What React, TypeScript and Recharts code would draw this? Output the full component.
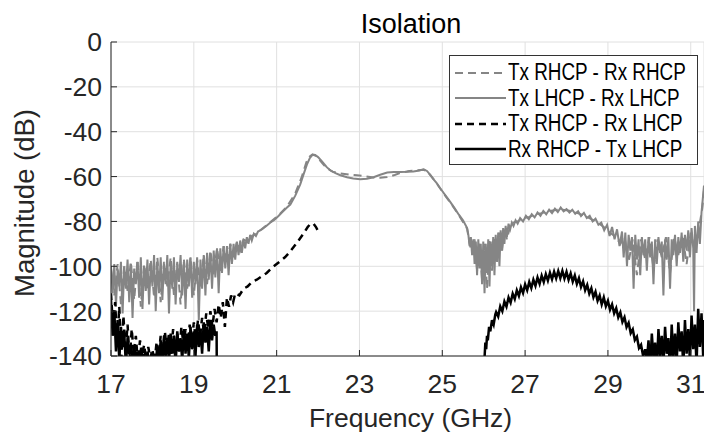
import React from 'react';
import { LineChart, Line, XAxis, YAxis, CartesianGrid, Legend } from 'recharts';

const xTicks = [17, 19, 21, 23, 25, 27, 29, 31];
const yTicks = [0, -20, -40, -60, -80, -100, -120, -140];

// [frequency GHz, magnitude dB]
const txRhcpRxRhcp: [number, number][] = [
  [17.0, -101], [17.08, -113], [17.16, -99], [17.24, -117], [17.32, -100], [17.4, -111], [17.48, -98], [17.56, -115],
  [17.64, -97], [17.72, -118], [17.8, -99], [17.88, -110], [17.96, -97], [18.04, -114], [18.12, -96], [18.2, -116],
  [18.28, -98], [18.36, -109], [18.44, -96], [18.52, -113], [18.6, -98], [18.68, -117], [18.76, -97], [18.84, -110],
  [18.92, -96], [19.0, -113], [19.08, -97], [19.16, -109], [19.24, -95], [19.32, -108], [19.4, -93], [19.48, -104],
  [19.56, -92], [19.64, -102], [19.72, -91], [19.8, -99], [19.88, -90], [19.96, -96], [20.04, -89], [20.12, -93],
  [20.2, -88], [20.3, -89], [20.4, -86.5], [20.5, -85.5], [20.65, -83.3], [20.85, -80.3], [21.05, -77.2], [21.25, -73.3],
  [21.45, -67.5], [21.6, -60.5], [21.72, -53.5], [21.8, -51], [21.86, -50.2], [21.93, -50.6], [22.0, -51.8], [22.1, -54],
  [22.21, -56.2], [22.35, -57.8], [22.54, -58.6], [22.75, -59.1], [22.94, -59.4], [23.15, -59.9], [23.34, -60.4], [23.5, -60.5],
  [23.67, -60.2], [23.85, -59.3], [24.0, -58.3], [24.2, -57.5], [24.4, -57.2], [24.55, -57], [24.63, -57.6], [24.72, -59.6],
  [24.87, -63.2], [25.03, -67.5], [25.2, -71.7], [25.4, -77.2], [25.6, -83.3], [25.66, -90], [25.72, -94], [25.78, -88],
  [25.84, -102], [25.9, -89], [25.96, -106], [26.02, -90], [26.08, -110], [26.14, -88], [26.2, -102], [26.26, -87],
  [26.32, -99], [26.38, -85], [26.44, -94], [26.5, -83], [26.56, -88], [26.64, -82], [26.72, -80.5], [26.82, -80],
  [26.95, -78.5], [27.1, -78], [27.25, -76.8], [27.4, -76.3], [27.55, -75.5], [27.7, -75], [27.85, -74.6], [28.0, -75],
  [28.15, -75.6], [28.3, -76.5], [28.45, -77.6], [28.6, -79], [28.75, -80.5], [28.9, -82.5], [29.05, -85], [29.2, -87],
  [29.3, -90], [29.4, -87], [29.5, -98], [29.6, -88], [29.7, -104], [29.8, -88], [29.9, -97], [30.0, -87],
  [30.1, -101], [30.2, -88], [30.3, -96], [30.4, -87], [30.5, -103], [30.6, -87], [30.7, -95], [30.8, -86],
  [30.9, -99], [31.0, -85], [31.1, -93], [31.2, -83], [31.28, -74], [31.32, -66],
];

const txLhcpRxLhcp: [number, number][] = [
  [17.0, -100], [17.04, -112], [17.08, -99], [17.12, -118], [17.16, -101], [17.2, -109], [17.24, -98], [17.28, -121],
  [17.32, -100], [17.36, -110], [17.4, -97], [17.44, -116], [17.48, -99], [17.52, -123], [17.56, -101], [17.6, -108],
  [17.64, -98], [17.68, -114], [17.72, -96], [17.76, -119], [17.8, -100], [17.84, -111], [17.88, -97], [17.92, -117],
  [17.96, -99], [18.0, -109], [18.04, -95], [18.08, -120], [18.12, -98], [18.16, -112], [18.2, -96], [18.24, -115],
  [18.28, -99], [18.32, -108], [18.36, -95], [18.4, -121], [18.44, -98], [18.48, -110], [18.52, -96], [18.56, -117],
  [18.6, -99], [18.64, -107], [18.68, -95], [18.72, -113], [18.76, -98], [18.8, -119], [18.84, -97], [18.88, -109],
  [18.92, -96], [18.96, -114], [19.0, -98], [19.04, -108], [19.08, -96], [19.12, -124], [19.16, -97], [19.2, -110],
  [19.24, -95], [19.28, -113], [19.32, -94], [19.36, -106], [19.4, -94], [19.44, -110], [19.48, -93], [19.52, -105],
  [19.56, -92], [19.6, -112], [19.64, -92], [19.68, -103], [19.72, -91], [19.76, -101], [19.8, -91], [19.84, -104],
  [19.88, -90], [19.92, -99], [19.96, -90], [20.0, -97], [20.04, -89], [20.08, -95], [20.12, -88.5], [20.16, -94],
  [20.2, -88], [20.24, -92], [20.28, -87], [20.32, -90], [20.36, -86], [20.4, -88.5], [20.45, -85.5], [20.5, -86.5],
  [20.55, -84.5], [20.65, -83.5], [20.75, -82], [20.85, -80.5], [20.95, -79.2], [21.05, -77.5], [21.15, -75.6], [21.25, -73.8],
  [21.33, -72.5], [21.45, -68.5], [21.57, -63.5], [21.65, -59], [21.73, -54.7], [21.8, -51.8], [21.87, -50.2], [21.93, -50.4],
  [22.0, -51.3], [22.1, -53.3], [22.21, -55.8], [22.3, -57.3], [22.42, -58.5], [22.54, -59.4], [22.7, -60.3], [22.85, -60.9],
  [23.02, -61.2], [23.18, -61], [23.34, -60.3], [23.5, -59.2], [23.67, -58.2], [23.83, -58], [23.99, -58], [24.15, -57.9],
  [24.3, -57.7], [24.45, -57.3], [24.55, -56.8], [24.63, -57.5], [24.72, -59.5], [24.8, -61.5], [24.87, -63], [24.95, -65.2],
  [25.03, -67.2], [25.12, -69.5], [25.2, -71.5], [25.3, -74.2], [25.4, -77], [25.5, -79.5], [25.6, -83], [25.63, -86],
  [25.66, -91], [25.69, -87], [25.72, -95], [25.75, -88], [25.78, -99], [25.81, -89], [25.84, -104], [25.87, -88],
  [25.9, -101], [25.93, -90], [25.96, -108], [25.99, -89], [26.02, -112], [26.05, -90], [26.08, -103], [26.11, -88],
  [26.14, -109], [26.17, -89], [26.2, -100], [26.23, -87], [26.26, -104], [26.29, -86], [26.32, -98], [26.35, -85],
  [26.38, -100], [26.41, -84], [26.44, -93], [26.47, -83], [26.5, -90], [26.53, -82], [26.56, -87], [26.6, -81],
  [26.64, -83.5], [26.68, -80.5], [26.72, -82], [26.77, -79.5], [26.82, -81], [26.88, -78.5], [26.95, -80], [27.02, -77.5],
  [27.09, -79], [27.16, -76.8], [27.23, -78.2], [27.3, -76], [27.37, -77.5], [27.44, -75.3], [27.51, -76.8], [27.58, -74.8],
  [27.65, -76.3], [27.72, -74.3], [27.79, -75.8], [27.86, -73.8], [27.93, -75.5], [28.0, -74.5], [28.07, -76], [28.14, -74.8],
  [28.21, -76.6], [28.28, -75.5], [28.35, -77.6], [28.42, -76.2], [28.49, -78.5], [28.56, -77.5], [28.63, -80], [28.7, -78.8],
  [28.77, -81.5], [28.84, -80.5], [28.91, -84], [28.98, -81.5], [29.04, -86.5], [29.1, -82.5], [29.16, -88], [29.22, -83.5],
  [29.28, -91], [29.34, -84.5], [29.38, -96], [29.42, -85], [29.46, -100], [29.5, -86], [29.54, -93], [29.58, -87],
  [29.62, -110], [29.66, -86], [29.7, -97], [29.74, -88], [29.78, -104], [29.82, -87], [29.86, -95], [29.9, -88],
  [29.94, -102], [29.98, -87], [30.02, -96], [30.06, -89], [30.1, -108], [30.14, -88], [30.18, -99], [30.22, -87],
  [30.26, -94], [30.3, -89], [30.34, -113], [30.38, -88], [30.42, -97], [30.46, -87], [30.5, -110], [30.54, -88],
  [30.58, -95], [30.62, -86], [30.66, -100], [30.7, -87], [30.74, -94], [30.78, -85], [30.82, -98], [30.86, -86],
  [30.9, -93], [30.94, -84], [30.98, -96], [31.02, -83], [31.06, -92], [31.08, -120], [31.1, -82], [31.14, -94],
  [31.18, -80], [31.22, -90], [31.26, -76], [31.29, -70], [31.32, -64],
];

const txRhcpRxLhcp: [number, number][] = [
  [17.0, -112], [17.05, -128], [17.1, -116], [17.15, -135], [17.2, -118], [17.25, -141], [17.3, -122], [17.35, -138],
  [17.4, -126], [17.45, -142], [17.5, -128], [17.55, -139], [17.6, -131], [17.65, -143], [17.7, -133], [17.75, -140],
  [17.8, -135], [17.85, -142], [17.9, -136], [17.95, -141], [18.0, -137], [18.05, -143], [18.1, -134], [18.15, -140],
  [18.2, -131], [18.25, -139], [18.3, -129], [18.35, -137], [18.4, -130], [18.45, -139], [18.5, -128], [18.55, -136],
  [18.6, -130], [18.65, -138], [18.7, -127], [18.75, -135], [18.8, -128], [18.85, -137], [18.9, -126], [18.95, -134],
  [19.0, -125], [19.05, -133], [19.1, -124], [19.15, -131], [19.2, -123], [19.25, -130], [19.3, -121], [19.35, -128],
  [19.4, -120], [19.45, -127], [19.5, -119], [19.55, -125], [19.6, -117], [19.65, -123], [19.7, -116], [19.75, -127],
  [19.8, -114], [19.85, -118], [19.9, -113], [19.95, -116], [20.0, -112], [20.1, -113], [20.2, -110], [20.3, -109],
  [20.4, -107], [20.52, -106], [20.64, -104.5], [20.76, -103], [20.9, -100.5], [21.0, -99], [21.1, -97.5], [21.2, -96],
  [21.3, -94], [21.41, -91.4], [21.53, -88.5], [21.65, -85.4], [21.75, -82.5], [21.82, -81], [21.89, -81], [21.95, -82.5],
  [22.01, -84.7],
];

const rxRhcpTxLhcp: [number, number][] = [
  [17.0, -115], [17.04, -131], [17.08, -120], [17.12, -138], [17.16, -124], [17.2, -142], [17.24, -127], [17.28, -136],
  [17.32, -130], [17.36, -144], [17.4, -132], [17.44, -139], [17.48, -135], [17.52, -145], [17.56, -136], [17.6, -141],
  [17.64, -138], [17.68, -146], [17.72, -137], [17.76, -142], [17.8, -139], [17.84, -147], [17.88, -138], [17.92, -143],
  [17.96, -140], [18.0, -148], [18.04, -139], [18.08, -144], [18.12, -135], [18.16, -142], [18.2, -133], [18.24, -145],
  [18.28, -131], [18.32, -140], [18.36, -132], [18.4, -143], [18.44, -130], [18.48, -139], [18.52, -131], [18.56, -144],
  [18.6, -129], [18.64, -138], [18.68, -132], [18.72, -142], [18.76, -128], [18.8, -139], [18.84, -130], [18.88, -141],
  [18.92, -127], [18.96, -137], [19.0, -129], [19.04, -140], [19.08, -126], [19.12, -136], [19.16, -128], [19.2, -139],
  [19.24, -125], [19.28, -134], [19.32, -127], [19.36, -138], [19.4, -124], [19.44, -133], [19.48, -126], [19.52, -131],
  [19.55, -129], [19.56, -165], [25.99, -165], [26.02, -141], [26.04, -134], [26.06, -137], [26.08, -131], [26.1, -133],
  [26.13, -127], [26.16, -129], [26.2, -124], [26.24, -126], [26.28, -121.5], [26.3, -120.4], [26.35, -122.4], [26.4, -117.9],
  [26.45, -120], [26.5, -115.7], [26.55, -118], [26.6, -113.9], [26.65, -116.2], [26.7, -112.2], [26.75, -114.6], [26.8, -110.7],
  [26.85, -113.2], [26.9, -109.4], [26.95, -111.9], [27.0, -108.1], [27.05, -110.7], [27.1, -107], [27.15, -109.7], [27.2, -106],
  [27.25, -108.7], [27.3, -105], [27.35, -107.8], [27.4, -104.2], [27.45, -107], [27.5, -103.5], [27.55, -106.4], [27.6, -102.9],
  [27.65, -105.8], [27.7, -102.4], [27.75, -105.4], [27.8, -102.1], [27.85, -105.3], [27.9, -102.1], [27.95, -105.5], [28.0, -102.5],
  [28.05, -106], [28.1, -103.2], [28.15, -106.8], [28.2, -104.1], [28.25, -107.9], [28.3, -105.3], [28.35, -109.2], [28.4, -106.7],
  [28.45, -110.7], [28.5, -108.3], [28.55, -112.2], [28.6, -109.8], [28.65, -113.8], [28.7, -111.4], [28.75, -115.4], [28.8, -113],
  [28.85, -117], [28.9, -113.9], [28.95, -117.8], [29.0, -115.4], [29.05, -119.4], [29.1, -117], [29.15, -121], [29.2, -118.7],
  [29.25, -122.8], [29.3, -120.6], [29.35, -124.8], [29.4, -122.7], [29.45, -127.1], [29.5, -125.2], [29.55, -129.8], [29.6, -128.1],
  [29.65, -132.9], [29.7, -131.4], [29.75, -136.4], [29.8, -135], [29.85, -140], [29.9, -137], [29.94, -142], [29.98, -133],
  [30.02, -145], [30.06, -130], [30.1, -141], [30.14, -134], [30.18, -146], [30.22, -128], [30.26, -140], [30.3, -131],
  [30.34, -144], [30.38, -127], [30.42, -139], [30.46, -132], [30.5, -147], [30.54, -126], [30.58, -141], [30.62, -130],
  [30.66, -143], [30.7, -125], [30.74, -138], [30.78, -129], [30.82, -145], [30.86, -124], [30.9, -139], [30.94, -128],
  [30.98, -142], [31.02, -122], [31.06, -137], [31.1, -126], [31.14, -144], [31.18, -119], [31.22, -136], [31.26, -121],
  [31.3, -140], [31.32, -124],
];

const toRows = (pts: [number, number][]) => pts.map(([f, db]) => ({ f, db }));

const GRAY = '#858585';
const INK = '#262626';
const FONT = "'Liberation Sans', Arial, Helvetica, sans-serif";

const series = [
  { name: 'Tx RHCP - Rx RHCP', data: toRows(txRhcpRxRhcp), color: GRAY, width: 2, dash: '8 5' },
  { name: 'Tx LHCP - Rx LHCP', data: toRows(txLhcpRxLhcp), color: GRAY, width: 2, dash: undefined },
  { name: 'Tx RHCP - Rx LHCP', data: toRows(txRhcpRxLhcp), color: '#000', width: 2.5, dash: '7 5' },
  { name: 'Rx RHCP - Tx LHCP', data: toRows(rxRhcpTxLhcp), color: '#000', width: 2.5, dash: undefined },
];

const X_MARGIN = 18;
const Y_MARGIN = 9;
const TICK_LEN = 6;

const BottomTick = ({ x, y, payload }: any) => (
  <g>
    <line x1={x} x2={x} y1={y - X_MARGIN} y2={y - X_MARGIN - TICK_LEN} stroke={INK} />
    <text x={x} y={y} dy="0.71em" textAnchor="middle" fontSize={26.5} fill={INK} fontFamily={FONT}>
      {payload.value}
    </text>
  </g>
);

const TopTick = ({ x, y }: any) => (
  <line x1={x} x2={x} y1={y} y2={y + TICK_LEN} stroke={INK} />
);

const LeftTick = ({ x, y, payload }: any) => (
  <g>
    <line x1={x + Y_MARGIN} x2={x + Y_MARGIN + TICK_LEN} y1={y} y2={y} stroke={INK} />
    <text x={x} y={y} dy="0.355em" textAnchor="end" fontSize={26.5} fill={INK} fontFamily={FONT}>
      {payload.value}
    </text>
  </g>
);

const XLabel = ({ viewBox }: any) => (
  <text
    x={viewBox.x + viewBox.width / 2 + 3}
    y={viewBox.y + 71}
    textAnchor="middle"
    fontSize={26.5}
    fill={INK}
    fontFamily={FONT}
  >
    Frequency (GHz)
  </text>
);

const YLabel = ({ viewBox }: any) => {
  const cx = viewBox.x + 34;
  const cy = viewBox.y + viewBox.height / 2 + 4;
  return (
    <text
      x={cx}
      y={cy}
      transform={`rotate(-90 ${cx} ${cy})`}
      textAnchor="middle"
      fontSize={27.5}
      fill={INK}
      fontFamily={FONT}
    >
      Magnitude (dB)
    </text>
  );
};

// legend text is set condensed, as in the original figure
const LegendBox = () => (
  <div
    style={{
      width: 249,
      height: 110,
      boxSizing: 'border-box',
      border: '1px solid #333',
      background: '#fff',
      paddingTop: 4,
    }}
  >
    {series.map((s) => (
      <div key={s.name} style={{ display: 'flex', alignItems: 'center', height: 25.5 }}>
        <svg width={56} height={10} style={{ flexShrink: 0 }}>
          <line x1={5} x2={56} y1={5} y2={5} stroke={s.color} strokeWidth={s.width} strokeDasharray={s.dash} />
        </svg>
        <span
          style={{
            display: 'inline-block',
            marginLeft: 2,
            fontFamily: FONT,
            fontSize: 23,
            color: '#000',
            whiteSpace: 'nowrap',
            lineHeight: 1,
            transform: 'scaleX(0.82)',
            transformOrigin: 'left center',
          }}
        >
          {s.name}
        </span>
      </div>
    ))}
  </div>
);

export default function App() {
  return (
    <div style={{ position: 'absolute', left: 0, top: 0, width: 704, height: 438, background: '#fff', overflow: 'hidden' }}>
      <LineChart width={704} height={438} margin={{ top: 42, right: 0, bottom: 0, left: 0 }} style={{ fontFamily: FONT }}>
        <CartesianGrid stroke="#e0e0e0" strokeWidth={1} />
        <XAxis
          dataKey="f"
          type="number"
          domain={[17, 31.32]}
          ticks={xTicks}
          allowDataOverflow
          interval={0}
          height={82}
          tickSize={0}
          tickMargin={X_MARGIN}
          tickLine={false}
          axisLine={{ stroke: INK }}
          tick={<BottomTick />}
          label={XLabel}
        />
        <XAxis
          xAxisId="top"
          orientation="top"
          dataKey="f"
          type="number"
          domain={[17, 31.32]}
          ticks={xTicks}
          allowDataOverflow
          interval={0}
          height={0}
          tickSize={0}
          tickMargin={0}
          tickLine={false}
          axisLine={{ stroke: INK }}
          tick={<TopTick />}
        />
        <YAxis
          type="number"
          domain={[-140, 0]}
          ticks={yTicks}
          allowDataOverflow
          interval={0}
          width={111}
          tickSize={0}
          tickMargin={Y_MARGIN}
          tickLine={false}
          axisLine={{ stroke: INK }}
          tick={<LeftTick />}
          label={YLabel}
        />
        <Legend
          layout="vertical"
          align="center"
          verticalAlign="middle"
          width={249}
          height={110}
          wrapperStyle={{ left: 449, top: 55, width: 249, height: 110 }}
          content={LegendBox}
        />
        {series.map((s) => (
          <Line
            key={s.name}
            data={s.data}
            dataKey="db"
            name={s.name}
            type="linear"
            stroke={s.color}
            strokeWidth={s.width}
            strokeDasharray={s.dash}
            dot={false}
            activeDot={false}
            isAnimationActive={false}
          />
        ))}
      </LineChart>
      <svg width={704} height={438} style={{ position: 'absolute', left: 0, top: 0, pointerEvents: 'none' }}>
        <text x={411} y={33} textAnchor="middle" fontSize={27} fill="#000" fontFamily={FONT}>
          Isolation
        </text>
      </svg>
    </div>
  );
}
